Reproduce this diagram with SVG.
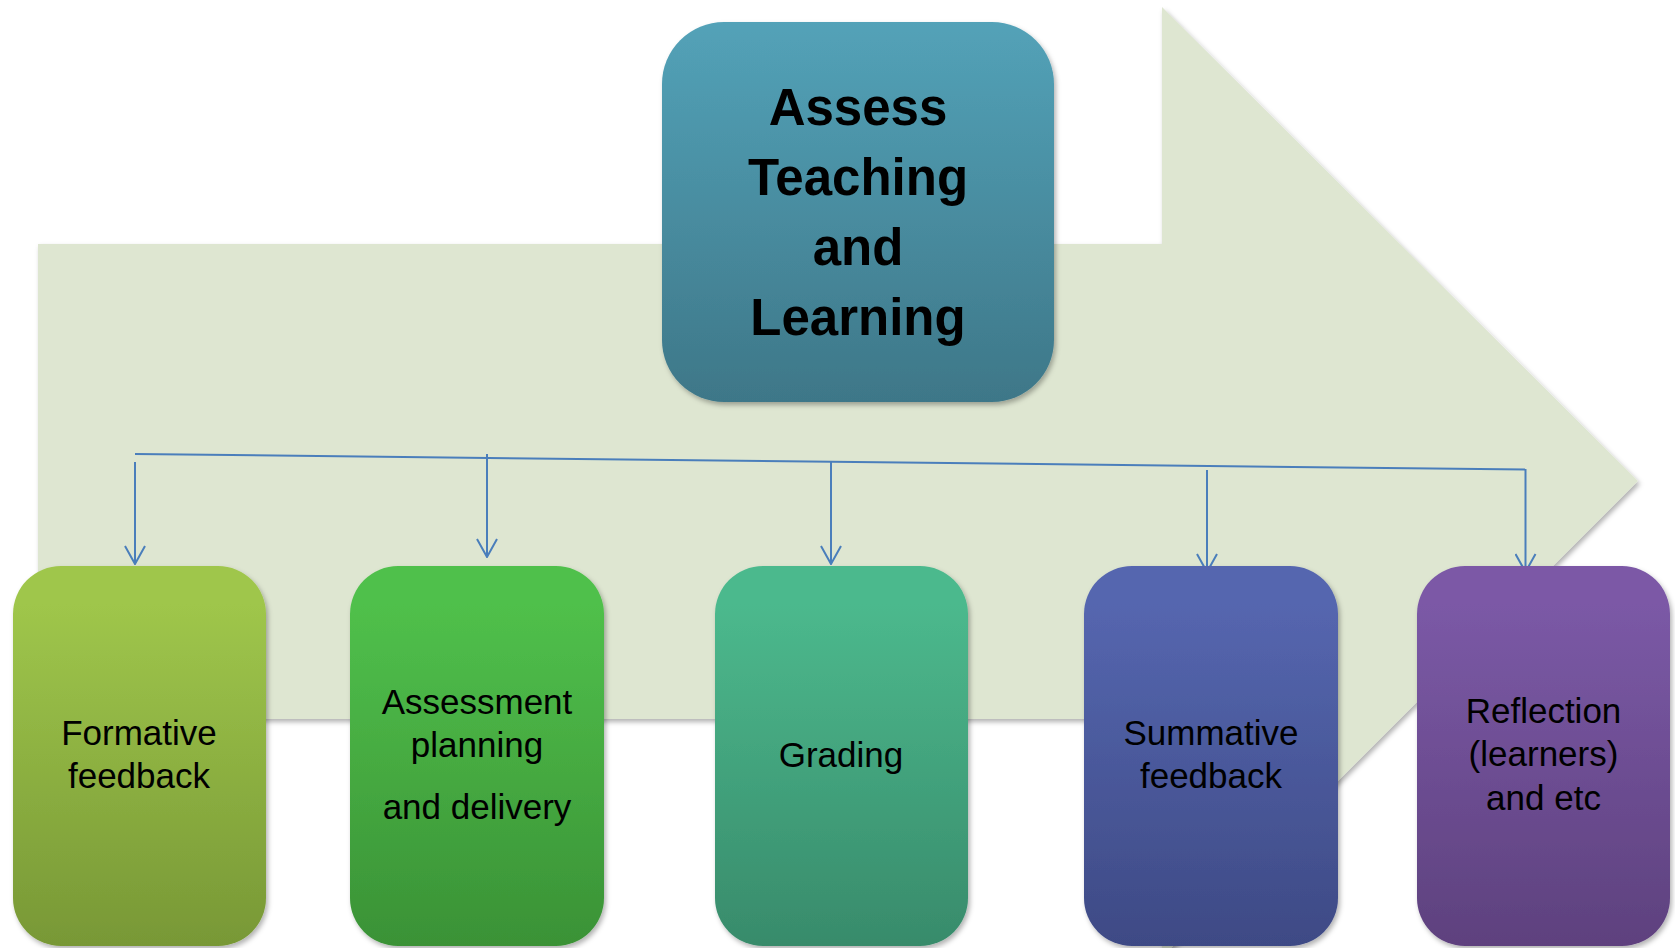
<svg xmlns="http://www.w3.org/2000/svg" width="1675" height="948" viewBox="0 0 1675 948">
<defs>
<style>
.lbl{font-family:"Liberation Sans",Arial,sans-serif;font-size:35px;fill:#000;text-anchor:middle}
.big{font-family:"Liberation Sans",Arial,sans-serif;font-size:51px;font-weight:bold;fill:#000;text-anchor:middle}
.con{stroke:#4A7EBB;stroke-width:2;fill:none}
</style>
<filter id="sh" x="-10%" y="-10%" width="120%" height="120%">
<feDropShadow dx="2" dy="3" stdDeviation="2.5" flood-color="#000" flood-opacity="0.3"/>
</filter>
<marker id="ah" viewBox="0 0 20 22" refX="19" refY="11" markerWidth="20" markerHeight="22" markerUnits="userSpaceOnUse" orient="auto">
<path d="M1,1 L19,11 L1,21" fill="none" stroke="#4A7EBB" stroke-width="2"/>
</marker>
<linearGradient id="gC" x1="0" y1="0" x2="0" y2="1"><stop offset="0" stop-color="#53A2B8"/><stop offset="1" stop-color="#3E7788"/></linearGradient>
<linearGradient id="g1" x1="0" y1="0" x2="0" y2="1"><stop offset="0.1" stop-color="#9FC64B"/><stop offset="1" stop-color="#789836"/></linearGradient>
<linearGradient id="g2" x1="0" y1="0" x2="0" y2="1"><stop offset="0.1" stop-color="#50C04B"/><stop offset="1" stop-color="#3A9236"/></linearGradient>
<linearGradient id="g3" x1="0" y1="0" x2="0" y2="1"><stop offset="0.1" stop-color="#4CB98D"/><stop offset="1" stop-color="#388B6B"/></linearGradient>
<linearGradient id="g4" x1="0" y1="0" x2="0" y2="1"><stop offset="0.1" stop-color="#5566AF"/><stop offset="1" stop-color="#3E4A85"/></linearGradient>
<linearGradient id="g5" x1="0" y1="0" x2="0" y2="1"><stop offset="0.1" stop-color="#7B59A6"/><stop offset="1" stop-color="#5E417E"/></linearGradient>
</defs>
<rect width="1675" height="948" fill="#fff"/>
<g id="arrow">
<polygon points="38,244 1162,244 1162,7 1638,481 1162,957 1162,719 38,719" fill="#DEE6D1" filter="url(#sh)"/>
</g>
<g id="center">
<rect x="662" y="22" width="392" height="380" rx="62" ry="62" fill="url(#gC)" filter="url(#sh)"/>
<text class="big" x="858" y="125">Assess</text>
<text class="big" x="858" y="195">Teaching</text>
<text class="big" x="858" y="265">and</text>
<text class="big" x="858" y="335">Learning</text>
</g>
<g id="connectors">
<line class="con" x1="135" y1="454" x2="1525.5" y2="469.5"/>
<line class="con" x1="1525.5" y1="469" x2="1525.5" y2="572" marker-end="url(#ah)"/>
<line class="con" x1="135" y1="462" x2="135" y2="564" marker-end="url(#ah)"/>
<line class="con" x1="487" y1="454" x2="487" y2="557" marker-end="url(#ah)"/>
<line class="con" x1="831" y1="462" x2="831" y2="564" marker-end="url(#ah)"/>
<line class="con" x1="1207" y1="470" x2="1207" y2="572" marker-end="url(#ah)"/>
</g>
<g id="formative">
<rect x="13" y="566" width="253" height="380" rx="48" ry="48" fill="url(#g1)" filter="url(#sh)"/>
<text class="lbl" x="139" y="745">Formative</text>
<text class="lbl" x="139" y="788">feedback</text>
</g>
<g id="assessment">
<rect x="350" y="566" width="254" height="380" rx="48" ry="48" fill="url(#g2)" filter="url(#sh)"/>
<text class="lbl" x="477" y="714">Assessment</text>
<text class="lbl" x="477" y="757">planning</text>
<text class="lbl" x="477" y="819">and delivery</text>
</g>
<g id="grading">
<rect x="715" y="566" width="253" height="380" rx="48" ry="48" fill="url(#g3)" filter="url(#sh)"/>
<text class="lbl" x="841" y="767">Grading</text>
</g>
<g id="summative">
<rect x="1084" y="566" width="254" height="380" rx="48" ry="48" fill="url(#g4)" filter="url(#sh)"/>
<text class="lbl" x="1211" y="745">Summative</text>
<text class="lbl" x="1211" y="788">feedback</text>
</g>
<g id="reflection">
<rect x="1417" y="566" width="253" height="380" rx="48" ry="48" fill="url(#g5)" filter="url(#sh)"/>
<text class="lbl" x="1543.5" y="723">Reflection</text>
<text class="lbl" x="1543.5" y="766">(learners)</text>
<text class="lbl" x="1543.5" y="810">and etc</text>
</g>
</svg>
